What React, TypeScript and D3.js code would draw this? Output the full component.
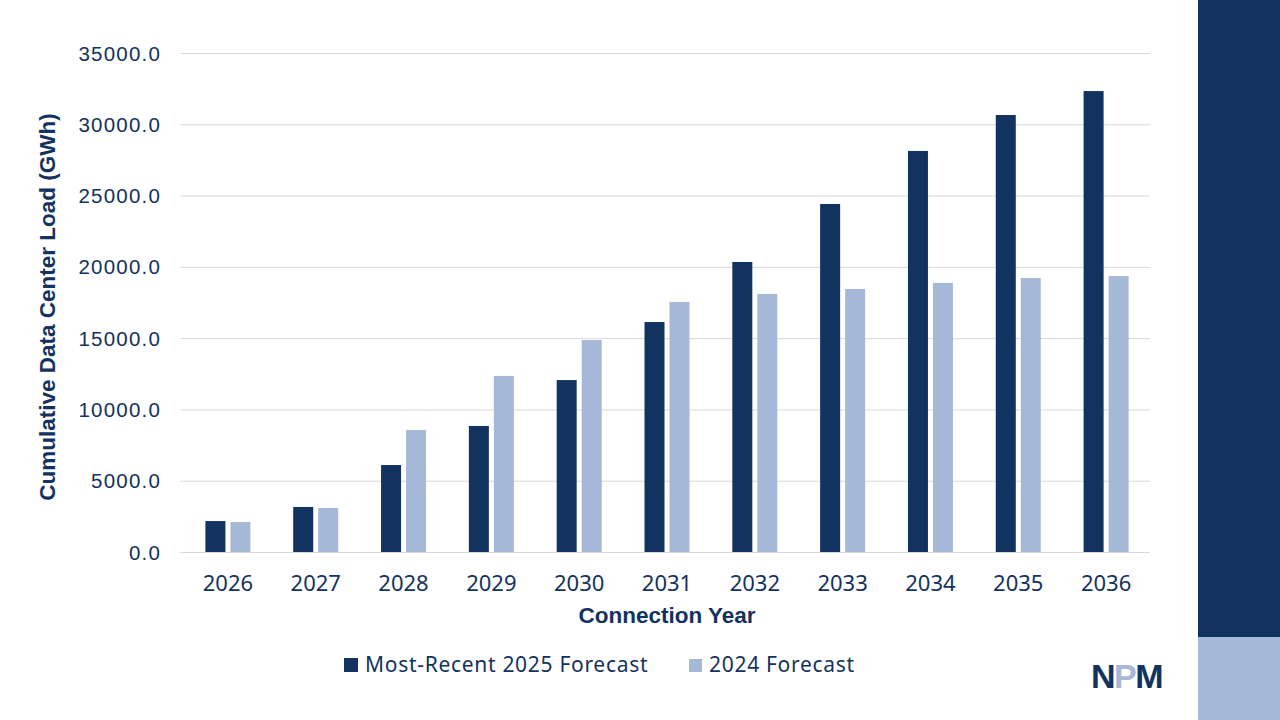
import * as d3 from "d3";
import { useEffect, useRef } from "react";

const years: string[] = ["2026", "2027", "2028", "2029", "2030", "2031", "2032", "2033", "2034", "2035", "2036"];
const forecast2025: number[] = [2170, 3160, 6100, 8840, 12060, 16130, 20340, 24410, 28130, 30650, 32330];
const forecast2024: number[] = [2100, 3090, 8560, 12350, 14870, 17540, 18100, 18450, 18870, 19220, 19360];
const yTicks: number[] = [0, 5000, 10000, 15000, 20000, 25000, 30000, 35000];
const seriesNames: string[] = ["Most-Recent 2025 Forecast", "2024 Forecast"];

const DARK = "#12325f";
const LIGHT = "#a6b8d8";
const TEXT = "#12325f";

export default function App() {
  const width = 1280;
  const height = 720;
  const marginLeft = 184;
  const marginRight = 130;
  const marginTop = 53;
  const plotBottom = 552;
  const svgRef = useRef(null);

  useEffect(() => {
    const svg = d3.select(svgRef.current);
    svg.selectAll("*").remove();

    // side bar
    svg.append("rect").attr("x", 1198).attr("y", 0).attr("width", 82).attr("height", 637).attr("fill", DARK);
    svg.append("rect").attr("x", 1198).attr("y", 637).attr("width", 82).attr("height", 83).attr("fill", LIGHT);

    const x = d3
      .scaleBand()
      .domain(years)
      .range([marginLeft, width - marginRight])
      .padding(0);

    const y = d3.scaleLinear().domain([0, 35000]).range([plotBottom, marginTop]);

    // gridlines
    svg
      .append("g")
      .selectAll("line")
      .data(yTicks)
      .enter()
      .append("line")
      .attr("x1", 180)
      .attr("x2", width - marginRight)
      .attr("y1", (d) => y(d) + 0.5)
      .attr("y2", (d) => y(d) + 0.5)
      .attr("stroke", "#d9d9d9")
      .attr("stroke-width", 1);

    // y tick labels
    svg
      .append("g")
      .selectAll("text")
      .data(yTicks)
      .enter()
      .append("text")
      .attr("x", 161)
      .attr("y", (d) => y(d) + 7.5)
      .attr("text-anchor", "end")
      .attr("font-family", "Liberation Sans, Arial, sans-serif")
      .attr("font-size", 20.5)
      .attr("letter-spacing", 1.2)
      .attr("fill", TEXT)
      .text((d) => d.toFixed(1));

    const barW = 20;
    const gap = 5;

    // bars
    svg
      .append("g")
      .attr("fill", DARK)
      .selectAll("rect")
      .data(forecast2025)
      .enter()
      .append("rect")
      .attr("x", (_d, i) => x(years[i])! + x.bandwidth() / 2 - gap / 2 - barW)
      .attr("y", (d) => y(d))
      .attr("width", barW)
      .attr("height", (d) => y(0) - y(d));

    svg
      .append("g")
      .attr("fill", LIGHT)
      .selectAll("rect")
      .data(forecast2024)
      .enter()
      .append("rect")
      .attr("x", (_d, i) => x(years[i])! + x.bandwidth() / 2 + gap / 2)
      .attr("y", (d) => y(d))
      .attr("width", barW)
      .attr("height", (d) => y(0) - y(d));

    // x tick labels
    svg
      .append("g")
      .selectAll("text")
      .data(years)
      .enter()
      .append("text")
      .attr("x", (d) => x(d)! + x.bandwidth() / 2)
      .attr("y", 591)
      .attr("text-anchor", "middle")
      .attr("font-family", "Noto Sans, sans-serif")
      .attr("font-size", 22)
      .attr("fill", TEXT)
      .text((d) => d);

    // axis titles
    svg
      .append("text")
      .attr("x", (marginLeft + width - marginRight) / 2)
      .attr("y", 623)
      .attr("text-anchor", "middle")
      .attr("font-family", "Liberation Sans, Arial, sans-serif")
      .attr("font-weight", "bold")
      .attr("font-size", 22.5)
      .attr("fill", TEXT)
      .text("Connection Year");

    svg
      .append("text")
      .attr("transform", `translate(55,${307}) rotate(-90)`)
      .attr("text-anchor", "middle")
      .attr("font-family", "Liberation Sans, Arial, sans-serif")
      .attr("font-weight", "bold")
      .attr("font-size", 22.5)
      .attr("fill", TEXT)
      .text("Cumulative Data Center Load (GWh)");

    // legend
    const legend = svg
      .append("g")
      .attr("font-family", "Noto Sans, sans-serif")
      .attr("font-size", 21)
      .attr("letter-spacing", 0.7)
      .attr("fill", TEXT);
    const legendX = [344, 689];
    const legendColors = [DARK, LIGHT];
    seriesNames.forEach((name, i) => {
      legend
        .append("rect")
        .attr("x", legendX[i])
        .attr("y", 658 + i)
        .attr("width", 14 - i)
        .attr("height", 14 - i)
        .attr("fill", legendColors[i]);
      legend
        .append("text")
        .attr("x", legendX[i] + 21 - i)
        .attr("y", 672)
        .attr("fill", TEXT)
        .text(name);
    });

    // logo
    const logo = svg
      .append("text")
      .attr("x", 1091)
      .attr("y", 688)
      .attr("font-family", "Liberation Sans, Arial, sans-serif")
      .attr("font-weight", "bold")
      .attr("font-size", 34)
      .attr("letter-spacing", -1.5)
      .attr("fill", DARK);
    logo.append("tspan").text("N");
    logo.append("tspan").attr("fill", LIGHT).text("P");
    logo.append("tspan").text("M");
  }, []);

  return (
    <svg
      ref={svgRef}
      width={width}
      height={height}
      style={{ position: "absolute", left: 0, top: 0, background: "#ffffff" }}
    />
  );
}
